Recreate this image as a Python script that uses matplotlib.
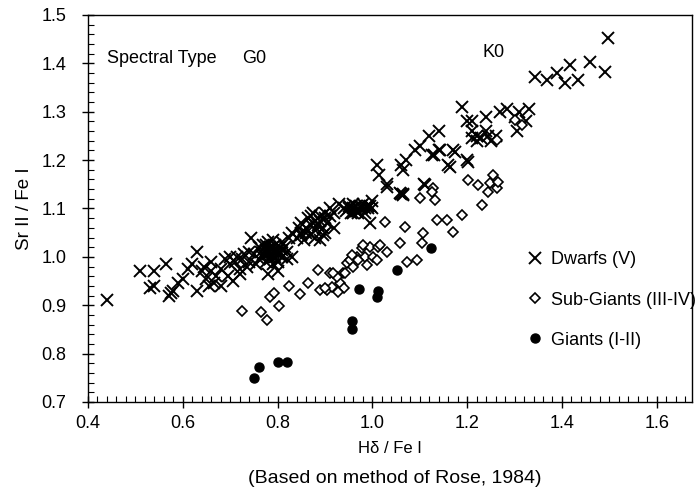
import matplotlib
matplotlib.use('Agg')

import matplotlib.pyplot as plt
from matplotlib.ticker import MultipleLocator

# Dwarfs (V)
dwarf_x = [0.44, 0.51, 0.54, 0.54, 0.53, 0.565, 0.57, 0.575, 0.58, 0.59,
           0.60, 0.61, 0.63, 0.63, 0.64, 0.645, 0.65, 0.655, 0.66, 0.665,
           0.67, 0.68, 0.68, 0.69, 0.695, 0.70, 0.705, 0.71, 0.715, 0.72,
           0.725, 0.73, 0.735, 0.74, 0.745, 0.75, 0.755, 0.76, 0.76, 0.765,
           0.77, 0.77, 0.775, 0.775, 0.78, 0.78, 0.785, 0.785, 0.79, 0.79,
           0.795, 0.795, 0.80, 0.80, 0.805, 0.81, 0.81, 0.815, 0.82, 0.82,
           0.825, 0.83, 0.83, 0.78, 0.80, 0.84, 0.845, 0.85, 0.85, 0.855,
           0.86, 0.865, 0.87, 0.87, 0.875, 0.88, 0.88, 0.885, 0.89, 0.89,
           0.895, 0.90, 0.90, 0.905, 0.91, 0.92, 0.93, 0.94, 0.945, 0.95,
           0.955, 0.96, 0.965, 0.97, 0.975, 0.98, 0.985, 0.99, 0.995, 1.0,
           0.96, 0.97, 0.99, 1.0, 0.95,
           0.77, 0.78, 0.79, 0.80, 0.785, 0.795, 0.775, 0.805, 0.79, 0.81,
           0.86, 0.875, 0.89, 0.90, 0.91, 0.92, 0.87, 0.85, 0.88, 0.895,
           0.965, 0.975, 0.985, 0.995, 0.96, 0.62, 0.66, 0.70, 0.74, 0.72,
           1.01, 1.015, 1.03, 1.06, 1.06, 1.07, 1.065, 1.065, 1.09, 1.10,
           1.11, 1.13, 1.14, 1.14, 1.12, 1.16, 1.17, 1.19, 1.20, 1.20,
           1.21, 1.21, 1.22, 1.24, 1.24, 1.245, 1.26, 1.27, 1.285, 1.30,
           1.305, 1.31, 1.325, 1.33, 1.21, 1.22, 1.23, 1.25, 1.143, 1.126,
           1.174, 1.164, 1.202, 1.111, 1.065, 1.058, 1.031,
           1.343, 1.368, 1.389, 1.406, 1.417, 1.434, 1.459, 1.491, 1.497]
dwarf_y = [0.91, 0.97, 0.97, 0.94, 0.935, 0.985, 0.92, 0.925, 0.93, 0.945,
           0.955, 0.975, 1.01, 0.93, 0.97, 0.98, 0.955, 0.94, 0.99, 0.945,
           0.96, 0.975, 0.94, 0.995, 0.96, 0.985, 0.95, 0.99, 1.0, 0.975,
           0.995, 1.005, 0.98, 0.99, 1.04, 1.005, 0.985, 1.02, 0.995, 1.01,
           1.0, 1.025, 0.99, 1.015, 1.005, 1.03, 0.995, 1.02, 1.01, 0.985,
           1.025, 1.0, 1.015, 0.99, 1.005, 1.03, 1.0, 1.02, 0.995, 1.01,
           1.04, 1.0, 1.05, 0.965, 0.97, 1.04, 1.06, 1.05, 1.07, 1.035,
           1.06, 1.08, 1.045, 1.065, 1.09, 1.055, 1.075, 1.065, 1.035, 1.085,
           1.06, 1.09, 1.05, 1.07, 1.10, 1.06, 1.11, 1.10, 1.095, 1.105,
           1.09, 1.10, 1.105, 1.095, 1.10, 1.11, 1.09, 1.10, 1.07, 1.10,
           1.11, 1.09, 1.105, 1.115, 1.10,
           1.005, 1.015, 1.02, 1.005, 1.0, 1.01, 1.025, 1.02, 1.035, 1.015,
           1.05, 1.07, 1.075, 1.08, 1.085, 1.09, 1.085, 1.045, 1.04, 1.045,
           1.095, 1.105, 1.10, 1.105, 1.09, 0.985, 0.97, 1.0, 1.01, 0.965,
           1.19, 1.17, 1.15, 1.19, 1.13, 1.20, 1.18, 1.13, 1.22, 1.23,
           1.15, 1.21, 1.22, 1.26, 1.25, 1.19, 1.22, 1.31, 1.28, 1.20,
           1.28, 1.26, 1.24, 1.29, 1.26, 1.25, 1.25, 1.30, 1.305, 1.29,
           1.26, 1.30, 1.28, 1.305, 1.245, 1.25, 1.245, 1.24, 1.221, 1.211,
           1.217, 1.186, 1.196, 1.149, 1.128, 1.132, 1.145,
           1.372, 1.366, 1.38, 1.36, 1.397, 1.366, 1.403, 1.382, 1.452]

# Sub-Giants (III-IV)
sub_x = [0.725, 0.765, 0.777, 0.784, 0.792, 0.803, 0.824, 0.847, 0.864, 0.885,
         0.889, 0.904, 0.911, 0.914, 0.932, 0.938, 0.946, 0.953, 0.959, 0.967,
         0.978, 0.984, 0.989, 0.995, 1.001, 1.010, 1.012, 1.031, 1.027, 1.058,
         1.069, 1.073, 1.094, 1.105, 1.107, 0.926, 0.94, 0.900, 0.927, 0.917,
         0.957, 0.970, 0.942, 0.980, 1.016,
         1.100, 1.128, 1.132, 1.136, 1.157, 1.170, 1.189, 1.202, 1.223, 1.231,
         1.244, 1.248, 1.254, 1.263, 1.265, 1.126, 1.263, 1.301, 1.316]
sub_y = [0.888, 0.886, 0.870, 0.917, 0.926, 0.899, 0.940, 0.924, 0.946, 0.973,
         0.932, 0.932, 0.967, 0.938, 0.946, 0.967, 0.988, 0.994, 0.979, 1.000,
         1.019, 1.000, 0.983, 1.021, 1.000, 0.994, 1.021, 1.010, 1.072, 1.029,
         1.062, 0.990, 0.994, 1.029, 1.050, 0.958, 0.935, 0.936, 0.928, 0.967,
         1.004, 0.994, 0.967, 1.025, 1.025,
         1.122, 1.143, 1.118, 1.076, 1.076, 1.052, 1.087, 1.159, 1.149, 1.107,
         1.134, 1.153, 1.169, 1.143, 1.155, 1.134, 1.242, 1.283, 1.273]

# Giants (I-II)
giant_x = [0.75, 0.76, 0.80, 0.82, 0.957, 0.957, 0.972, 1.012, 1.010, 1.052, 1.124]
giant_y = [0.75, 0.773, 0.783, 0.783, 0.868, 0.850, 0.934, 0.930, 0.917, 0.973, 1.019]

plt.rcParams['font.family'] = ['Liberation Sans', 'DejaVu Sans']

fig = plt.figure(figsize=(6.96, 4.93), dpi=100)
ax = fig.add_axes([0.1264, 0.1846, 0.8676, 0.785])

ax.plot(dwarf_x, dwarf_y, linestyle='none', marker='x', markersize=8.5,
        markeredgewidth=1.4, color='black', label='Dwarfs (V)')
ax.plot(sub_x, sub_y, linestyle='none', marker='D', markersize=5.5,
        markeredgewidth=1.2, markerfacecolor='white', color='black',
        label='Sub-Giants (III-IV)')
ax.plot(giant_x, giant_y, linestyle='none', marker='o', markersize=6.5,
        color='black', label='Giants (I-II)')

ax.set_xlim(0.4, 1.674)
ax.set_ylim(0.7, 1.5)
ax.xaxis.set_major_locator(MultipleLocator(0.2))
ax.xaxis.set_minor_locator(MultipleLocator(0.02))
ax.yaxis.set_major_locator(MultipleLocator(0.1))
ax.yaxis.set_minor_locator(MultipleLocator(0.02))
ax.xaxis.set_major_formatter(plt.FormatStrFormatter('%.1f'))
ax.yaxis.set_major_formatter(plt.FormatStrFormatter('%.1f'))
ax.tick_params(which='major', direction='inout', length=9, width=1, labelsize=13)
ax.tick_params(which='minor', direction='in', length=4, width=0.8)
ax.tick_params(axis='x', pad=5)
ax.tick_params(axis='y', pad=11)
for s in ax.spines.values():
    s.set_linewidth(1)

ax.set_xlabel('H\u03b4 / Fe I', fontsize=12, labelpad=6)
ax.set_ylabel('Sr II / Fe I', fontsize=13.5, labelpad=6)

ax.text(0.44, 1.41, 'Spectral Type', fontsize=13, va='center')
ax.text(0.725, 1.41, 'G0', fontsize=13, va='center')
ax.text(1.232, 1.422, 'K0', fontsize=13, va='center')

fig.text(0.567, 0.03, '(Based on method of Rose, 1984)', fontsize=14,
         ha='center', va='center')

ax.legend(loc='upper left', bbox_to_anchor=(0.753, 0.49), bbox_transform=fig.transFigure,
          frameon=False, fontsize=13, handletextpad=0.3, labelspacing=1.28,
          handlelength=1.2, borderaxespad=0, borderpad=0)

fig.savefig('out.png', dpi=100)
